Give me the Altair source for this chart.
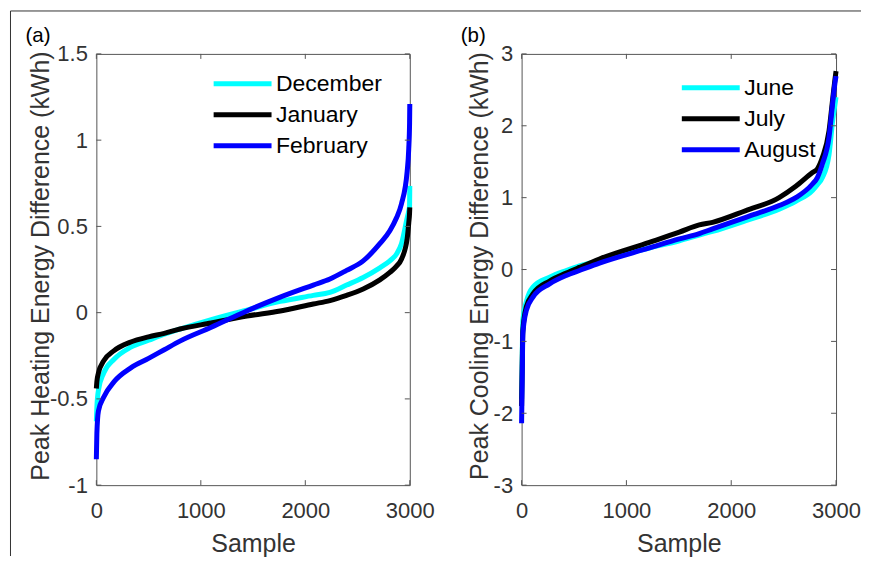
import altair as alt
import pandas as pd

FONT = "Liberation Sans"
AXC = "#555555"
TXC = "#333333"

# ---------------- data ----------------
a_months = ["December", "January", "February"]
b_months = ["June", "July", "August"]
line_colors = ["#00FFFF", "#000000", "#0000FF"]

a_sample = [0, 5, 20, 70, 170, 330, 500, 650, 800, 1100, 1440, 1760, 2076, 2236,
            2395, 2554, 2713, 2809, 2873, 2920, 2975, 2990, 2998, 3000]
a_december = [-0.63, -0.55, -0.45, -0.35, -0.27, -0.20, -0.16, -0.125, -0.095, -0.04,
              0.015, 0.065, 0.10, 0.118, 0.16, 0.204, 0.26, 0.30, 0.34, 0.40, 0.55,
              0.59, 0.62, 0.735]
a_january = [-0.44, -0.40, -0.35, -0.28, -0.22, -0.17, -0.14, -0.12, -0.095, -0.06,
             -0.02, 0.01, 0.05, 0.07, 0.10, 0.137, 0.19, 0.233, 0.27, 0.31, 0.43,
             0.52, 0.58, 0.61]
a_february = [-0.85, -0.70, -0.57, -0.49, -0.40, -0.32, -0.265, -0.215, -0.165, -0.085,
              0.01, 0.09, 0.16, 0.195, 0.245, 0.30, 0.40, 0.475, 0.55, 0.63, 0.82,
              0.95, 1.10, 1.21]

b_sample = [0, 6, 12, 45, 108, 267, 426, 552, 743, 1219, 1505, 1695, 1822, 2140,
            2457, 2616, 2775, 2822, 2870, 2933, 2970, 2990, 3000]
b_june = [-1.8, -1.2, -0.7, -0.45, -0.245, -0.107, -0.014, 0.05, 0.12, 0.30, 0.40,
          0.48, 0.53, 0.68, 0.84, 0.95, 1.10, 1.18, 1.28, 1.60, 2.10, 2.30, 2.40]
b_july = [-1.9, -1.3, -0.85, -0.52, -0.34, -0.16, -0.05, 0.03, 0.147, 0.378, 0.52,
          0.62, 0.657, 0.82, 1.0, 1.157, 1.35, 1.40, 1.56, 1.93, 2.40, 2.65, 2.76]
b_august = [-2.14, -1.5, -0.89, -0.57, -0.385, -0.2, -0.083, -0.014, 0.09, 0.30, 0.426,
            0.50, 0.565, 0.727, 0.89, 1.0, 1.19, 1.28, 1.47, 1.84, 2.35, 2.60, 2.69]

x_ticks = [0, 1000, 2000, 3000]
a_y_ticks = [-1, -0.5, 0, 0.5, 1, 1.5]
b_y_ticks = [-3, -2, -1, 0, 1, 2, 3]


def make_df(sample, months, series):
    rows = []
    for m, vals in zip(months, series):
        for s, v in zip(sample, vals):
            rows.append({"month": m, "sample": s, "value": v})
    return pd.DataFrame(rows)


def panel(df, months, ydomain, yticks, ytitle, tag, W, H, leg_x, leg_y, ytitle_x, frame=False):
    xsc = alt.Scale(domain=[0, 3000], nice=False, zero=False)
    ysc = alt.Scale(domain=ydomain, nice=False, zero=False)
    x_enc = alt.X("sample:Q", scale=xsc, axis=alt.Axis(
        values=x_ticks, title="Sample", ticks=False, domain=False, grid=False,
        labelFont=FONT, labelFontSize=22, labelColor=TXC, labelPadding=15,
        labelFlush=False, labelOverlap=False, format="d",
        titleFont=FONT, titleFontSize=25, titleFontWeight="normal", titleColor=TXC,
        titleX=W / 2, titleY=66, titleBaseline="alphabetic", titleAlign="center"))
    y_enc = alt.Y("value:Q", scale=ysc, axis=alt.Axis(
        values=yticks, title=ytitle, ticks=False, domain=False, grid=False,
        labelFont=FONT, labelFontSize=22, labelColor=TXC, labelPadding=9,
        labelFlush=False, labelOverlap=False, labelExpr="toString(datum.value)",
        titleFont=FONT, titleFontSize=25, titleFontWeight="normal", titleColor=TXC,
        titleX=ytitle_x, titleY=H / 2 - 4, titleBaseline="alphabetic", titleAlign="center"))
    c_enc = alt.Color("month:N", scale=alt.Scale(domain=months, range=line_colors),
                      legend=alt.Legend(
                          title=None, orient="none", legendX=leg_x, legendY=leg_y,
                          symbolType="stroke", symbolSize=3364, symbolStrokeWidth=5,
                          labelFont=FONT, labelFontSize=23, labelColor="black",
                          labelOffset=2, clipHeight=24, rowPadding=7, padding=0))
    layers = []
    for m in months:
        layers.append(
            alt.Chart(df).transform_filter(alt.datum.month == m)
            .mark_line(strokeWidth=5, strokeCap="butt", interpolate="monotone")
            .encode(x=x_enc, y=y_enc, color=c_enc, order="sample:Q")
        )
    xt = pd.DataFrame({"sample": x_ticks})
    yt = pd.DataFrame({"value": yticks})
    layers += [
        alt.Chart(xt).mark_rule(color=AXC, strokeWidth=1).encode(
            x=x_enc, y=alt.value(H), y2=alt.value(H - 5)),
        alt.Chart(xt).mark_rule(color=AXC, strokeWidth=1).encode(
            x=x_enc, y=alt.value(0), y2=alt.value(5)),
        alt.Chart(yt).mark_rule(color=AXC, strokeWidth=1).encode(
            y=y_enc, x=alt.value(0), x2=alt.value(5)),
        alt.Chart(yt).mark_rule(color=AXC, strokeWidth=1).encode(
            y=y_enc, x=alt.value(W), x2=alt.value(W - 5)),
    ]
    tag_df = pd.DataFrame({"tag": [tag[0]]})
    layers.append(
        alt.Chart(tag_df).mark_text(align="left", baseline="middle", font=FONT,
                                    fontSize=20.5, color="black")
        .encode(text="tag:N", x=alt.value(tag[1]), y=alt.value(-18))
    )
    if frame:
        fdf = pd.DataFrame({"f": [0]})
        layers += [
            alt.Chart(fdf).mark_rule(color="#333333", strokeWidth=1).encode(
                x=alt.value(-86), x2=alt.value(766), y=alt.value(-43)),
            alt.Chart(fdf).mark_rule(color="#333333", strokeWidth=1).encode(
                x=alt.value(-86), y=alt.value(-43), y2=alt.value(503)),
        ]
    return alt.layer(*layers).properties(width=W, height=H)


df_a = make_df(a_sample, a_months, [a_december, a_january, a_february])
df_b = make_df(b_sample, b_months, [b_june, b_july, b_august])

pa = panel(df_a, a_months, [-1, 1.5], a_y_ticks,
           "Peak Heating Energy Difference (kWh)", ("(a)", -71), 314, 432,
           115, 18, -48, frame=True)
pb = panel(df_b, b_months, [-3, 3], b_y_ticks,
           "Peak Cooling Energy Difference (kWh)", ("(b)", -61), 315, 432,
           158, 22, -34)

chart = alt.hconcat(pa, pb, spacing=112, bounds="flush").resolve_scale(
    x="independent", y="independent", color="independent"
).resolve_legend(color="independent").properties(
    padding={"left": 1.5, "top": 1.5, "right": 0, "bottom": 0}
).configure_view(stroke=AXC, strokeWidth=1)

chart.save("out.html", embed_options={"renderer": "svg", "actions": False})
